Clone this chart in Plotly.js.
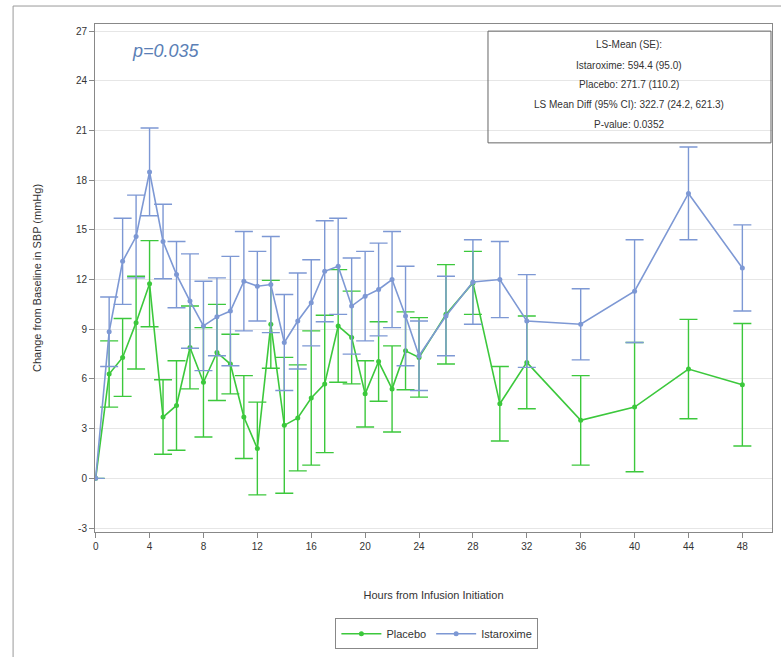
<!DOCTYPE html>
<html>
<head>
<meta charset="utf-8">
<script src="https://cdn.plot.ly/plotly-3.0.1.min.js"></script>
<style>
html,body{margin:0;padding:0;background:#fff;}
#chart{width:781px;height:657px;}
</style>
</head>
<body>
<div id="chart"></div>
<script>
// Hours from infusion initiation
const hours = [0,1,2,3,4,5,6,7,8,9,10,11,12,13,14,15,16,17,18,19,20,21,22,23,24,26,28,30,32,36,40,44,48];

// Placebo LS-mean change and SE
const placeboMean = [0,6.3,7.3,9.4,11.75,3.7,4.4,7.9,5.8,7.6,6.9,3.7,1.8,9.3,3.2,3.65,4.85,5.7,9.2,8.5,5.1,7.05,5.4,7.7,7.3,9.9,11.8,4.5,7.0,3.5,4.3,6.6,5.65];
const placeboSE   = [0,2.0,2.35,2.8,2.6,2.25,2.7,2.5,3.3,2.9,1.8,2.5,2.8,2.65,4.1,3.2,4.05,4.15,3.4,2.8,2.0,2.4,2.6,2.35,2.4,3.0,1.9,2.25,2.8,2.7,3.9,3.0,3.7];

// Istaroxime LS-mean change and SE
const istaMean = [0,8.85,13.1,14.6,18.5,14.3,12.3,10.7,9.2,9.75,10.1,11.9,11.6,11.7,8.2,9.5,10.6,12.5,12.8,10.4,11.0,11.4,12.0,9.8,7.4,9.8,11.85,12.0,9.5,9.3,11.3,17.2,12.7];
const istaSE   = [0,2.1,2.6,2.5,2.65,2.25,2.0,2.85,2.7,2.35,3.3,3.0,2.1,2.9,2.9,2.9,2.6,3.05,2.9,2.9,2.7,2.8,2.9,3.0,2.1,2.4,2.55,2.3,2.8,2.15,3.1,2.8,2.6];

// Tick labels
const xTicks = [0,4,8,12,16,20,24,28,32,36,40,44,48];
const yTicks = [-3,0,3,6,9,12,15,18,21,24,27];

// Statistics box text
const statLines = [
  "LS-Mean (SE):",
  "Istaroxime: 594.4 (95.0)",
  "Placebo: 271.7 (110.2)",
  "LS Mean Diff (95% CI): 322.7 (24.2, 621.3)",
  "P-value: 0.0352"
];
const pText = "p=0.035";

const GREEN = "#3cc83c";
const BLUE = "#7d98d4";
const FONT = "Liberation Sans, Arial, sans-serif";

const traces = [
  {
    x: hours, y: placeboMean, name: "Placebo", type: "scatter", mode: "lines+markers",
    line: {color: GREEN, width: 1.6},
    marker: {color: GREEN, size: 5},
    error_y: {type: "data", array: placeboSE, visible: true, color: GREEN, thickness: 1.4, width: 9}
  },
  {
    x: hours, y: istaMean, name: "Istaroxime", type: "scatter", mode: "lines+markers",
    line: {color: BLUE, width: 1.6},
    marker: {color: BLUE, size: 5},
    error_y: {type: "data", array: istaSE, visible: true, color: BLUE, thickness: 1.4, width: 9}
  }
];

const lineYs = [0.959, 0.919, 0.880, 0.841, 0.802];
const annotations = statLines.map((t, i) => ({
  text: t, xref: "paper", yref: "paper", x: 0.789, y: lineYs[i],
  xanchor: "center", yanchor: "middle", showarrow: false,
  font: {family: FONT, size: 10, color: "#333"}
}));
annotations.push({
  text: "<i>" + pText + "</i>", xref: "paper", yref: "paper", x: 0.052, y: 0.947,
  xanchor: "left", yanchor: "middle", showarrow: false,
  font: {family: FONT, size: 18, color: "#5b7fb6"}
});

const layout = {
  width: 781, height: 657,
  margin: {l: 95, r: 9, t: 24, b: 124},
  paper_bgcolor: "#fff", plot_bgcolor: "#fff",
  font: {family: FONT, size: 10, color: "#333"},
  showlegend: true,
  legend: {
    orientation: "h", x: 0.505, y: -0.198, xanchor: "center", yanchor: "middle",
    bordercolor: "#888", borderwidth: 1, font: {family: FONT, size: 11, color: "#333"},
    itemwidth: 40
  },
  xaxis: {
    range: [-0.05, 50.2], tickvals: xTicks, ticktext: xTicks.map(String),
    ticks: "outside", ticklen: 5, tickcolor: "#888",
    showline: true, linecolor: "#888", mirror: true, showgrid: false, zeroline: false,
    tickfont: {family: FONT, size: 10, color: "#333"},
    title: {text: "Hours from Infusion Initiation", font: {family: FONT, size: 11, color: "#333"}, standoff: 40}
  },
  yaxis: {
    range: [-3.24, 27.43], tickvals: yTicks, ticktext: yTicks.map(String),
    ticks: "outside", ticklen: 5, tickcolor: "#888",
    showline: true, linecolor: "#888", mirror: true,
    showgrid: true, gridcolor: "#e6e6e6", zeroline: false,
    tickfont: {family: FONT, size: 10, color: "#333"},
    title: {text: "Change from Baseline in SBP (mmHg)", font: {family: FONT, size: 11, color: "#333"}, standoff: 32}
  },
  shapes: [
    {type: "rect", xref: "paper", yref: "paper", x0: 0.5805, x1: 0.9985, y0: 0.766, y1: 0.986,
     line: {color: "#666", width: 1}, fillcolor: "rgba(255,255,255,0)", layer: "above"},
    {type: "rect", xref: "paper", yref: "paper", x0: -0.121, x1: 1.03, y0: -0.28, y1: 1.0354,
     line: {color: "#999", width: 1}, fillcolor: "rgba(0,0,0,0)", layer: "below"}
  ],
  annotations: annotations
};

Plotly.newPlot("chart", traces, layout, {displayModeBar: false, staticPlot: true});
</script>
</body>
</html>
